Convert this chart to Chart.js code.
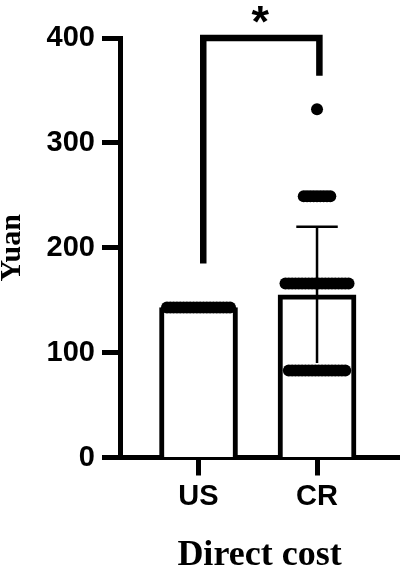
<!DOCTYPE html>
<html>
<head>
<meta charset="utf-8">
<script src="https://cdn.jsdelivr.net/npm/chart.js@4"></script>
<style>
    html, body { margin: 0; padding: 0; background: #fff; }
    #chart-div { width: 405px; height: 574px; position: relative; }
</style>
</head>
<body>
<div id="chart-div"><canvas id="myChart"></canvas></div>
<script>
// groups on the x axis
var groups = ["US", "CR"];
// bar height (mean) and SD for each group
var barMeans = [143, 155];
var barSD = [0, 65];
// individual values (dots) for each group
var usValues = [143, 143, 143, 143, 143, 143, 143, 143, 143, 143,
    143, 143, 143, 143, 143, 143, 143, 143, 143, 143];
var crValues = [83, 83, 83, 83, 83, 83, 83, 83, 83, 83, 83, 83, 83, 83, 83, 83, 83, 83,
    166, 166, 166, 166, 166, 166, 166, 166, 166, 166,
    166, 166, 166, 166, 166, 166, 166, 166, 166, 166,
    249, 249, 249, 249, 249, 249, 249, 249, 249,
    332];
var yTicks = [0, 100, 200, 300, 400];
// significance bracket: top value and where each leg stops
var bracketTop = 400;
var bracketEnds = [185, 364];
var sigText = "*";

var tickFont = { family: "Liberation Sans", weight: "bold", size: 29 };
var titleFont = { family: "Liberation Serif", weight: "bold" };

// spread dots with the same value side by side (like a scatter dot plot)
function spreadDots(values, groupIndex) {
    var counts = {};
    values.forEach(function (v) { counts[v] = (counts[v] || 0) + 1; });
    var seen = {};
    return values.map(function (v) {
        var j = seen[v] || 0;
        seen[v] = j + 1;
        var offset = (j - (counts[v] - 1) / 2) * 0.028;
        return { x: groupIndex + offset, y: v };
    });
}

var dotData = spreadDots(usValues, 0).concat(spreadDots(crValues, 1));

var barData = barMeans.map(function (m, i) { return { x: i, y: m }; });

// error bar lines (only where SD > 0), cap on top
var errorSets = [];
barMeans.forEach(function (m, i) {
    if (barSD[i] === 0) return;
    var lo = m - barSD[i];
    var hi = m + barSD[i];
    [[{ x: i, y: lo }, { x: i, y: hi }],
     [{ x: i - 0.175, y: hi }, { x: i + 0.175, y: hi }]].forEach(function (seg) {
        errorSets.push({
            type: "line",
            data: seg,
            borderColor: "#000",
            borderWidth: 2.5,
            pointRadius: 0,
            order: 2
        });
    });
});

var bracketData = [
    { x: 0.04, y: bracketEnds[0] },
    { x: 0.04, y: bracketTop },
    { x: 1.02, y: bracketTop },
    { x: 1.02, y: bracketEnds[1] }
];

// asterisk over the bracket
var sigPlugin = {
    id: "sigText",
    afterDraw: function (chart) {
        var ctx = chart.ctx;
        var xs = chart.scales.x;
        var ys = chart.scales.y;
        var x = xs.getPixelForValue((bracketData[0].x + bracketData[2].x) / 2);
        var y = ys.getPixelForValue(bracketTop) - 23.5;
        ctx.save();
        ctx.font = "bold 45px 'Liberation Sans'";
        ctx.fillStyle = "#000";
        ctx.textAlign = "center";
        ctx.textBaseline = "alphabetic";
        var m = ctx.measureText(sigText);
        var mid = (m.actualBoundingBoxAscent - m.actualBoundingBoxDescent) / 2;
        ctx.fillText(sigText, x - 1, y + mid);
        ctx.restore();
    }
};

var datasets = [
    {
        type: "bar",
        data: barData,
        backgroundColor: "#fff",
        borderColor: "#000",
        borderWidth: 5,
        barThickness: 78,
        order: 3
    }
].concat(errorSets).concat([
    {
        type: "scatter",
        data: dotData,
        backgroundColor: "#000",
        borderColor: "#000",
        pointRadius: 6,
        borderWidth: 0,
        order: 1
    },
    {
        type: "line",
        data: bracketData,
        borderColor: "#000",
        borderWidth: 6.5,
        borderJoinStyle: "miter",
        borderCapStyle: "butt",
        pointRadius: 0,
        clip: false,
        order: 0
    }
]);

var ctx = document.getElementById("myChart").getContext("2d");
var chart = new Chart(ctx, {
    type: "bar",
    data: { datasets: datasets },
    options: {
        responsive: true,
        maintainAspectRatio: false,
        animation: false,
        layout: { padding: { top: 38, right: 2, left: 0, bottom: 0 } },
        plugins: { legend: { display: false }, tooltip: { enabled: false } },
        scales: {
            x: {
                type: "linear",
                min: -0.6625,
                max: 1.6917,
                offset: false,
                afterBuildTicks: function (scale) {
                    scale.ticks = groups.map(function (g, i) { return { value: i }; });
                },
                afterFit: function (scale) { scale.height = 116.5; },
                ticks: {
                    color: "#000",
                    font: tickFont,
                    padding: 4,
                    maxRotation: 0,
                    callback: function (value, index) { return groups[index]; }
                },
                grid: {
                    offset: false,
                    drawOnChartArea: false,
                    tickLength: 18,
                    tickWidth: 5,
                    tickColor: "#000"
                },
                border: { color: "#000", width: 5 },
                title: {
                    display: true,
                    text: "Direct cost",
                    color: "#000",
                    font: { family: titleFont.family, weight: titleFont.weight, size: 36, lineHeight: 1 },
                    padding: { top: 0, bottom: 0 }
                }
            },
            y: {
                min: yTicks[0],
                max: yTicks[yTicks.length - 1],
                afterBuildTicks: function (scale) {
                    scale.ticks = yTicks.map(function (v) { return { value: v }; });
                },
                afterFit: function (scale) { scale.width = 120; },
                ticks: { color: "#000", font: tickFont, padding: 7 },
                grid: {
                    drawOnChartArea: false,
                    tickLength: 18,
                    tickWidth: 5,
                    tickColor: "#000"
                },
                border: { color: "#000", width: 5 },
                title: {
                    display: true,
                    text: "Yuan",
                    color: "#000",
                    font: { family: titleFont.family, weight: titleFont.weight, size: 30, lineHeight: 1 },
                    padding: { top: -3, bottom: 0 }
                }
            }
        }
    },
    plugins: [sigPlugin]
});
</script>
</body>
</html>
